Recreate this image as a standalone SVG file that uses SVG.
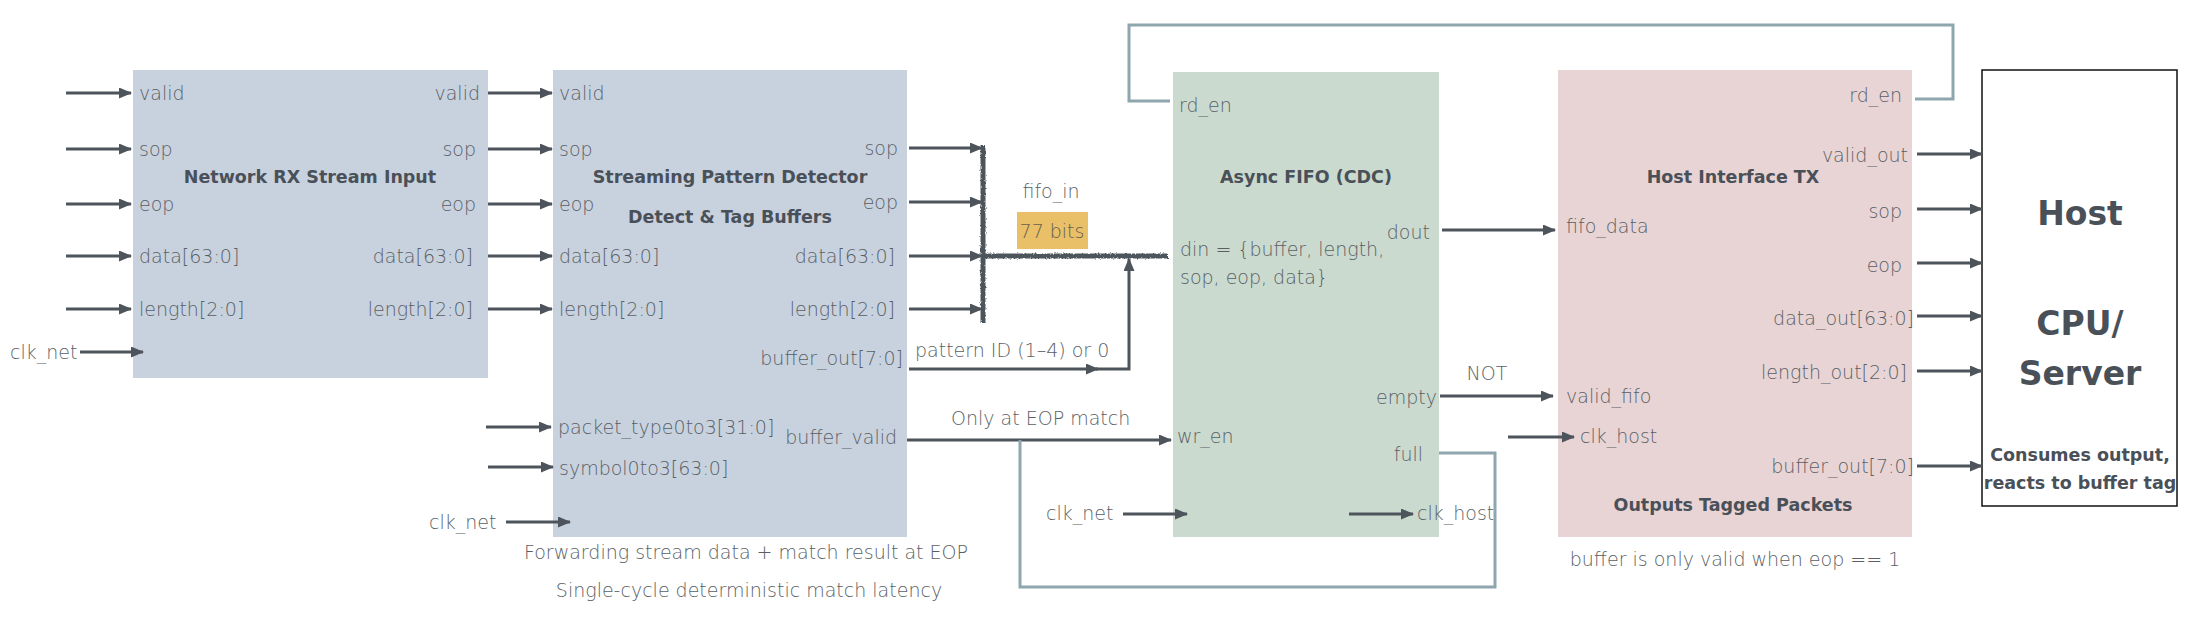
<svg xmlns="http://www.w3.org/2000/svg" width="2200" height="622" viewBox="0 0 2200 622">
<style>
.t{font-family:"DejaVu Sans","Liberation Sans",sans-serif;font-size:19px;font-weight:300;fill:#5a5f66}
.e{text-anchor:end}
.m{text-anchor:middle}
.b{font-family:"DejaVu Sans","Liberation Sans",sans-serif;font-weight:bold;font-size:17.5px;fill:#4a5058;text-anchor:middle}
.big{font-size:33px}
.a{stroke:#4e545b;stroke-width:3;fill:none;marker-end:url(#ah)}
.fb{stroke:#8ea6ae;stroke-width:3;fill:none;stroke-linejoin:miter}
.bus{stroke:#4e545b;stroke-width:5;fill:none}
</style>
<defs>
<marker id="ah" markerUnits="userSpaceOnUse" markerWidth="13" markerHeight="11" refX="12" refY="5.5" orient="auto">
<path d="M0,0 L13,5.5 L0,11 z" fill="#4e545b"/>
</marker>
<filter id="rough" filterUnits="userSpaceOnUse" x="0" y="0" width="2200" height="622">
<feTurbulence type="fractalNoise" baseFrequency="0.6" numOctaves="2" seed="3"/>
<feDisplacementMap in="SourceGraphic" scale="3"/>
</filter>
</defs>
<rect width="2200" height="622" fill="#ffffff"/>

<g id="network-rx">
<rect x="133" y="70" width="355" height="308" fill="#c8d2df"/>
<text class="b" x="310" y="183">Network RX Stream Input</text>
<text class="t" x="139" y="100">valid</text>
<text class="t" x="139" y="156">sop</text>
<text class="t" x="139" y="211">eop</text>
<text class="t" x="139" y="263">data[63:0]</text>
<text class="t" x="139" y="316">length[2:0]</text>
<text class="t e" x="480" y="100">valid</text>
<text class="t e" x="476" y="156">sop</text>
<text class="t e" x="476" y="211">eop</text>
<text class="t e" x="473" y="263">data[63:0]</text>
<text class="t e" x="473" y="316">length[2:0]</text>
<text class="t" x="10" y="359">clk_net</text>
</g>

<g id="pattern-detector">
<rect x="553" y="70" width="354" height="467" fill="#c8d2df"/>
<text class="b" x="730" y="183">Streaming Pattern Detector</text>
<text class="b" x="730" y="223">Detect &amp; Tag Buffers</text>
<text class="t" x="559" y="100">valid</text>
<text class="t" x="559" y="156">sop</text>
<text class="t" x="559" y="211">eop</text>
<text class="t" x="559" y="263">data[63:0]</text>
<text class="t" x="559" y="316">length[2:0]</text>
<text class="t e" x="898" y="155">sop</text>
<text class="t e" x="898" y="209">eop</text>
<text class="t e" x="895" y="263">data[63:0]</text>
<text class="t e" x="895" y="316">length[2:0]</text>
<text class="t e" x="903" y="365">buffer_out[7:0]</text>
<text class="t e" x="897" y="444">buffer_valid</text>
<text class="t" x="558" y="434">packet_type0to3[31:0]</text>
<text class="t" x="559" y="475">symbol0to3[63:0]</text>
<text class="t" x="429" y="529">clk_net</text>
<text class="t m" x="746" y="559">Forwarding stream data + match result at EOP</text>
<text class="t m" x="749" y="597">Single-cycle deterministic match latency</text>
</g>

<g id="async-fifo">
<rect x="1173" y="72" width="266" height="465" fill="#cbdacf"/>
<text class="b" x="1306" y="183">Async FIFO (CDC)</text>
<text class="t" x="1179" y="112">rd_en</text>
<text class="t" x="1180" y="256">din = {buffer, length,</text>
<text class="t" x="1180" y="284">sop, eop, data}</text>
<text class="t e" x="1430" y="239">dout</text>
<text class="t e" x="1437" y="404">empty</text>
<text class="t" x="1177" y="443">wr_en</text>
<text class="t e" x="1423" y="461">full</text>
<text class="t" x="1046" y="520">clk_net</text>
<text class="t" x="1417" y="520">clk_host</text>
</g>

<g id="host-interface-tx">
<rect x="1558" y="70" width="354" height="467" fill="#e8d4d4"/>
<text class="b" x="1733" y="183">Host Interface TX</text>
<text class="t e" x="1902" y="102">rd_en</text>
<text class="t e" x="1908" y="162">valid_out</text>
<text class="t e" x="1902" y="218">sop</text>
<text class="t e" x="1902" y="272">eop</text>
<text class="t e" x="1914" y="325">data_out[63:0]</text>
<text class="t e" x="1907" y="379">length_out[2:0]</text>
<text class="t e" x="1914" y="473">buffer_out[7:0]</text>
<text class="t" x="1566" y="233">fifo_data</text>
<text class="t" x="1566" y="403">valid_fifo</text>
<text class="t" x="1580" y="443">clk_host</text>
<text class="b" x="1733" y="511">Outputs Tagged Packets</text>
<text class="t m" x="1735" y="566">buffer is only valid when eop == 1</text>
</g>

<g id="host-cpu">
<rect x="1982" y="70" width="195" height="436" fill="#ffffff" stroke="#111111" stroke-width="1.5"/>
<text class="b big" x="2080" y="225">Host</text>
<text class="b big" x="2080" y="335">CPU/</text>
<text class="b big" x="2080" y="385">Server</text>
<text class="b" x="2080" y="461">Consumes output,</text>
<text class="b" x="2080" y="489">reacts to buffer tag</text>
</g>

<g id="fifo-in-label">
<text class="t m" x="1051" y="198">fifo_in</text>
<rect x="1017" y="212" width="71" height="37" fill="#e9bf68"/>
<text class="t m" x="1052" y="238" style="fill:#66604f">77 bits</text>
</g>

<g id="connectors">
<line class="a" x1="66" y1="93" x2="131" y2="93"/>
<line class="a" x1="66" y1="149" x2="131" y2="149"/>
<line class="a" x1="66" y1="204" x2="131" y2="204"/>
<line class="a" x1="66" y1="256" x2="131" y2="256"/>
<line class="a" x1="66" y1="309" x2="131" y2="309"/>
<line class="a" x1="80" y1="352" x2="143" y2="352"/>

<line class="a" x1="488" y1="93" x2="552" y2="93"/>
<line class="a" x1="488" y1="149" x2="552" y2="149"/>
<line class="a" x1="488" y1="204" x2="552" y2="204"/>
<line class="a" x1="488" y1="256" x2="552" y2="256"/>
<line class="a" x1="488" y1="309" x2="552" y2="309"/>
<line class="a" x1="486" y1="427" x2="551" y2="427"/>
<line class="a" x1="488" y1="467" x2="553" y2="467"/>
<line class="a" x1="506" y1="522" x2="570" y2="522"/>

<line class="a" x1="909" y1="148" x2="982" y2="148"/>
<line class="a" x1="909" y1="202" x2="982" y2="202"/>
<line class="a" x1="909" y1="256" x2="982" y2="256"/>
<line class="a" x1="909" y1="309" x2="982" y2="309"/>
<g filter="url(#rough)">
<line class="bus" x1="983" y1="145" x2="983" y2="323"/>
<line class="bus" x1="985" y1="256" x2="1168" y2="256"/>
</g>

<line class="a" x1="909" y1="369" x2="1098" y2="369"/>
<path class="a" d="M1096,369 H1129 V259"/>
<text class="t" x="915" y="357">pattern ID (1–4) or 0</text>

<line class="a" x1="907" y1="440" x2="1171" y2="440"/>
<text class="t" x="951" y="425">Only at EOP match</text>

<line class="a" x1="1123" y1="514" x2="1187" y2="514"/>
<line class="a" x1="1349" y1="514" x2="1413" y2="514"/>

<line class="a" x1="1442" y1="230" x2="1555" y2="230"/>
<line class="a" x1="1440" y1="396" x2="1553" y2="396"/>
<text class="t m" x="1487" y="380">NOT</text>
<line class="a" x1="1508" y1="437" x2="1574" y2="437"/>

<line class="a" x1="1917" y1="154" x2="1982" y2="154"/>
<line class="a" x1="1917" y1="209" x2="1982" y2="209"/>
<line class="a" x1="1917" y1="263" x2="1982" y2="263"/>
<line class="a" x1="1917" y1="316" x2="1982" y2="316"/>
<line class="a" x1="1917" y1="371" x2="1982" y2="371"/>
<line class="a" x1="1917" y1="466" x2="1982" y2="466"/>

<path class="fb" d="M1915,99 H1953 V25 H1129 V101 H1170"/>
<path class="fb" d="M1439,453 H1495 V587 H1020 V440"/>
</g>
</svg>
